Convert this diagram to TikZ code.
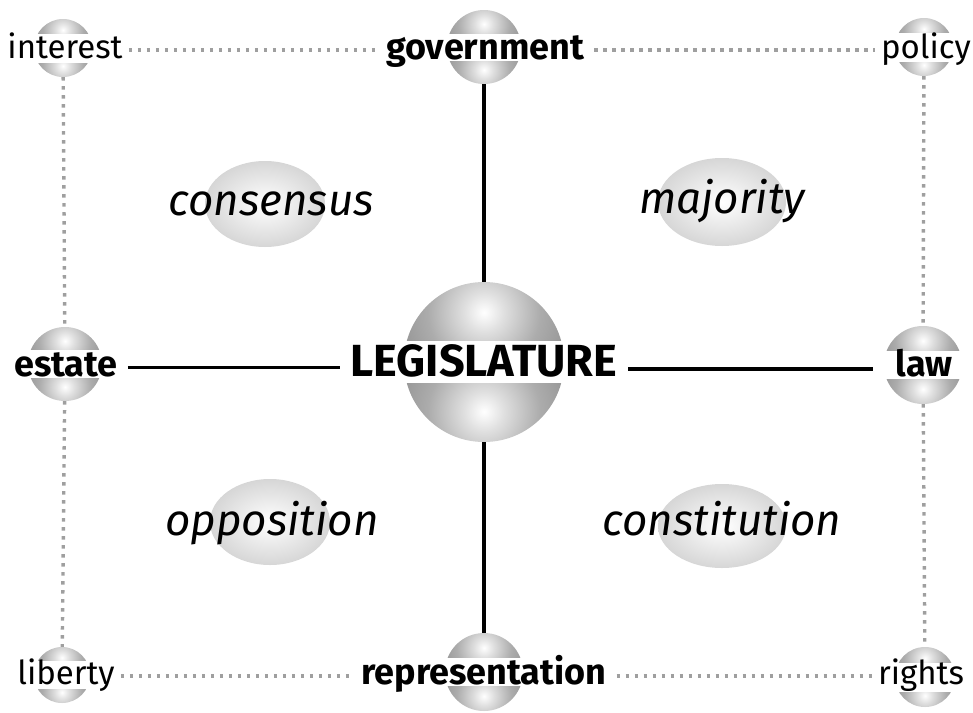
\documentclass[tikz,border=0pt]{standalone}
\usepackage{fontspec}
\setmainfont{Fira Sans}
\usetikzlibrary{positioning,arrows.meta}

\pgfdeclareradialshading{orbshade}{\pgfpoint{0bp}{0bp}}{color(0bp)=(white); color(5bp)=(gray!25); color(14bp)=(gray!65); color(25bp)=(gray!90); color(50bp)=(gray!90)}

% shaded ball with a white band across its middle
\newcommand{\orb}[4]{%
  \node[circle,minimum size=2*#3 pt,inner sep=0pt] (#1) at (#2) {};
  \begin{scope}[shift={(#2)},x=1pt,y=1pt]
    \begin{scope}
      \clip (0,0) circle (#3);
      \clip (-#3,0) rectangle (#3,#3);
      \shade[shading=orbshade] (0,0.62*#3) circle (1.25*#3);
    \end{scope}
    \begin{scope}
      \clip (0,0) circle (#3);
      \clip (-#3,0) rectangle (#3,-#3);
      \shade[shading=orbshade] (0,-0.62*#3) circle (1.25*#3);
    \end{scope}
    \fill[white] (-#3,-#4/2) rectangle (#3,#4/2);
  \end{scope}}

\begin{document}
\begin{tikzpicture}[x=1pt,y=-1pt,
  small/.style={anchor=base,inner xsep=6pt,font=\fontsize{33}{36}\selectfont,text height=23pt,text depth=7pt},
  key/.style={anchor=base,inner xsep=10pt,font=\fontsize{36}{39}\selectfont\bfseries,text height=25pt,text depth=8pt},
  main/.style={anchor=base,inner xsep=11pt,font=\fontsize{45}{48}\selectfont\bfseries,text height=30pt,text depth=16pt},
  idea/.style={anchor=base,font=\fontsize{44}{48}\selectfont\itshape},
  link/.style={line width=3.2pt},
  tie/.style={line width=3.4pt,gray!75,dash pattern=on 3.4pt off 5.6pt}]
\useasboundingbox (0,0) rectangle (973,712);

% soft ellipses behind the ideas
\shade[inner color=white,outer color=gray!32] (265,204) ellipse (60 and 43);
\shade[inner color=white,outer color=gray!32] (722,202) ellipse (64 and 44);
\shade[inner color=white,outer color=gray!32] (270,522) ellipse (60 and 43);
\shade[inner color=white,outer color=gray!32] (722,526) ellipse (64 and 42);

% balls
\orb{legisball}{484,362}{80}{42}
\orb{govball}{484,47}{37}{27}
\orb{repball}{484,672}{39}{28}
\orb{estball}{65,364}{37}{28}
\orb{lawball}{923,365}{39}{28}
\orb{intball}{63,48}{29}{29}
\orb{polball}{924,47}{29}{29}
\orb{libball}{62,675}{28}{28}
\orb{rigball}{925,677}{30}{29}

% labels
\node[main] (legis) at (484,376) {LEGISLATURE};
\node[key] (gov) at (485,59) {government};
\node[key] (rep) at (484,684) {representation};
\node[key] (est) at (66,376) {estate};
\node[key] (law) at (924,376) {law};
\node[small] (int) at (65,58) {interest};
\node[small] (pol) at (926,58) {policy};
\node[small] (lib) at (66,684) {liberty};
\node[small] (rig) at (921,684) {rights};

\node[idea] (cons) at (271,215) {consensus};
\node[idea] (maj) at (722,213) {majority};
\node[idea] (opp) at (272,535) {opposition};
\node[idea] (const) at (722,535) {constitution};

% solid links
\draw[link] (govball) -- (legisball);
\draw[link] (legisball) -- (repball);
\draw[link] (est.east) -- (est.east -| legis.west);
\draw[link,shorten >=11pt] (legis.east) -- (legis.east -| lawball.west);

% dotted ties
\draw[tie] (int) -- (gov.west |- int);
\draw[tie] (gov.east |- pol) -- (pol);
\draw[tie] (lib) -- (rep.west |- lib);
\draw[tie] (rep.east |- rig) -- (rig);
\draw[tie] (intball) -- (estball);
\draw[tie] (estball) -- (libball);
\draw[tie] (polball) -- (lawball);
\draw[tie] (lawball) -- (rigball);
\end{tikzpicture}
\end{document}
